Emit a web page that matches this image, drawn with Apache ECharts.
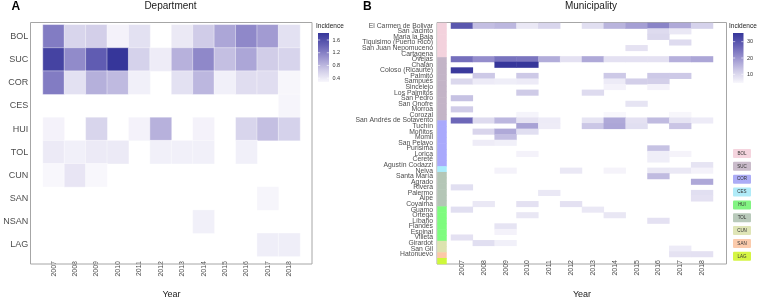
<!DOCTYPE html>
<html><head><meta charset="utf-8">
<script src="https://cdn.jsdelivr.net/npm/echarts@6/dist/echarts.min.js"></script>
<style>html,body{margin:0;padding:0;background:#fff}#c{width:757px;height:304px}</style>
</head><body><div id="c"></div>
<script>
const _ = null;
const years = ['2007','2008','2009','2010','2011','2012','2013','2014','2015','2016','2017','2018'];
const departments = ['BOL','SUC','COR','CES','HUI','TOL','CUN','SAN','NSAN','LAG'];
// Panel A: incidence by department (rows) and year (columns)
const deptIncidence = [
  [1.23,0.57,0.62,0.32,0.47,_,0.40,0.65,0.92,1.14,1.00,0.47],
  [1.70,1.12,1.48,1.82,0.60,0.37,0.84,1.14,0.74,0.92,0.64,0.58],
  [1.23,0.47,0.85,0.78,0.34,_,0.47,0.80,0.34,0.50,0.50,0.29],
  [_,_,_,_,_,_,_,_,_,_,_,0.30],
  [0.32,_,0.57,_,0.32,0.84,_,0.32,_,0.57,0.74,0.60],
  [0.39,0.34,0.39,0.39,_,0.34,0.34,0.34,_,0.34,_,_],
  [0.28,0.43,0.28,_,_,_,_,_,_,_,_,_],
  [_,_,_,_,_,_,_,_,_,_,0.30,_],
  [_,_,_,_,_,_,_,0.34,_,_,_,_],
  [_,_,_,_,_,_,_,_,_,_,0.36,0.36]
];
const municipalities = ['El Carmen de Bolivar','San Jacinto','Maria la Baja','Tiquisimo (Puerto Rico)','San Juan Nepomuceno','Cartagena',
  'Ovejas','Chalán','Coloso (Ricaurte)','Palmito','Sampués','Sincelejo','Los Palmitos','San Pedro','San Onofre','Morroa','Corozal',
  'San Andrés de Sotavento','Tuchín','Moñitos','Momil','San Pelayo','Purisima','Lorica','Cereté',
  'Agustín Codazzi',
  'Neiva','Santa María','Agrado','Rivera','Palermo','Aipe',
  'Coyaima','Guamo','Ortega','Líbano','Flandés','Espinal',
  'Villeta','Girardot','San Gil','Hatonuevo'];
const muniDept = ['BOL','BOL','BOL','BOL','BOL','BOL',
  'SUC','SUC','SUC','SUC','SUC','SUC','SUC','SUC','SUC','SUC','SUC',
  'COR','COR','COR','COR','COR','COR','COR','COR',
  'CES',
  'HUI','HUI','HUI','HUI','HUI','HUI',
  'TOL','TOL','TOL','TOL','TOL','TOL',
  'CUN','CUN','SAN','LAG'];
// Panel B: incidence by municipality (rows) and year (columns)
const muniIncidence = [
  [29.5,14,15,7.3,10.3,_,8.8,15.5,18.5,22.4,17,11],
  [_,_,_,_,_,_,_,_,_,9.5,7.3,_],
  [_,_,_,_,_,_,_,_,_,10,_,_],
  [_,_,_,_,_,_,_,_,_,_,9.5,_],
  [_,_,_,_,_,_,_,_,8.2,_,_,_],
  [_,_,_,_,_,_,_,_,_,_,_,_],
  [25.5,21,25,24.6,16.5,8.4,17,8.4,8.4,8.4,16,17.5],
  [_,_,35.3,35.3,_,_,_,_,_,_,_,_],
  [34.5,_,_,_,_,_,_,_,_,_,_,_],
  [_,12.5,_,12.5,_,_,_,12.5,_,12.5,12.5,_],
  [10,6.7,6.3,6.7,_,_,_,6.7,11.5,11.5,_,_],
  [_,_,_,_,_,_,_,5.5,_,5.5,_,_],
  [_,_,_,12.2,_,_,9.5,_,_,_,_,_],
  [13.5,_,_,_,_,_,_,_,_,_,_,_],
  [_,_,_,_,_,_,_,_,8,_,_,_],
  [12,_,_,_,_,_,_,_,_,_,_,_],
  [_,_,_,5.2,_,_,_,4.7,_,_,4.9,_],
  [26.7,9.5,15,8.2,6.7,_,8,17,8.4,14.5,8,6.7],
  [_,_,_,18,6.5,_,12.8,17.5,8.8,_,13,_],
  [_,10.4,17,8.8,_,_,_,_,_,_,_,_],
  [_,_,14,_,_,_,_,_,_,_,_,_],
  [_,6.5,5.9,_,_,_,_,_,_,_,_,_],
  [_,_,_,_,_,_,_,_,_,13.5,_,_],
  [_,_,_,5.5,_,_,_,_,_,6.3,5.3,_],
  [_,_,_,_,_,_,_,_,_,6.3,_,_],
  [_,_,_,_,_,_,_,_,_,_,_,8],
  [_,_,5.5,_,_,7.3,_,5.3,_,7.5,7.3,5.5],
  [_,_,_,_,_,_,_,_,_,14.5,_,_],
  [_,_,_,_,_,_,_,_,_,_,_,17.2],
  [8.8,_,_,_,_,_,_,_,_,_,_,_],
  [_,_,_,_,7.3,_,_,_,_,_,_,8.8],
  [_,_,_,_,_,_,_,_,_,_,_,8.4],
  [_,7.3,_,8.4,_,8.4,_,_,_,_,_,_],
  [8.8,_,_,_,_,_,7.3,_,_,_,_,_],
  [_,_,_,7.5,_,_,_,7.5,_,_,_,_],
  [_,_,_,_,_,_,_,_,_,8.4,_,_],
  [_,_,8,_,_,_,_,_,_,_,_,_],
  [_,_,5.5,_,_,_,_,_,_,_,_,_],
  [8.4,_,_,_,_,_,_,_,_,_,_,_],
  [_,8.8,5.9,_,_,_,_,_,_,_,_,_],
  [_,_,_,_,_,_,_,_,_,_,6.7,_],
  [_,_,_,_,_,_,_,_,_,_,8.2,8.4]
];
const groupLegend = ['BOL','SUC','COR','CES','HUI','TOL','CUN','SAN','LAG'];
const legendColors = {BOL:'#f5d4de',SUC:'#cabccb',COR:'#acacf6',CES:'#b0ebf8',HUI:'#82f482',TOL:'#b9cabb',CUN:'#dfe5b6',SAN:'#fbcbac',LAG:'#d5f544'};
const stripColors = {BOL:'#f3d2dd',SUC:'#c3b4c7',COR:'#a9a9fc',CES:'#a9ecfc',HUI:'#b4c6b6',TOL:'#7efc7e',CUN:'#dde3af',SAN:'#fdc8a7',LAG:'#cef83a'};
const legendTicksA = [0.4,0.8,1.2,1.6];
const legendTicksB = [10,20,30];

const ramp = ['#f8f7fc','#cecae7','#9b94cf','#6661b5','#36369a'];
const FONT = "'Liberation Sans', Arial, sans-serif";

function cells(rows){const o=[];rows.forEach((r,yi)=>r.forEach((v,xi)=>{if(v!=null)o.push([xi,yi,v]);}));return o;}
function range(rows){const v=rows.flat().filter(x=>x!=null);return [Math.min(...v),Math.max(...v)];}
const dataA = cells(deptIncidence), dataB = cells(muniIncidence);
const [minA,maxA] = range(deptIncidence), [minB,maxB] = range(muniIncidence);
const stripData = municipalities.map((m,i)=>({value:[0,i,1],itemStyle:{color:stripColors[muniDept[i]]}}));

const grad = () => new echarts.graphic.LinearGradient(0,0,0,1,
  ramp.slice().reverse().map((c,i)=>({offset:i/(ramp.length-1),color:c})));

function colorbar(x,y,w,h,min,max,ticks){
  const els=[{type:'rect',shape:{x:x,y:y,width:w,height:h},style:{fill:grad()}}];
  ticks.forEach(t=>{
    const ty=y+h-(t-min)/(max-min)*h;
    els.push({type:'line',shape:{x1:x,y1:ty,x2:x+2.2,y2:ty},style:{stroke:'#fff',lineWidth:0.6}});
    els.push({type:'line',shape:{x1:x+w-2.2,y1:ty,x2:x+w,y2:ty},style:{stroke:'#fff',lineWidth:0.6}});
    els.push({type:'text',x:x+w+3.5,y:ty,style:{text:String(t),fontSize:5.5,fontFamily:FONT,fill:'#333',verticalAlign:'middle'}});
  });
  return els;
}

const graphics = [
  {type:'rect',shape:{x:30.5,y:22.5,width:281.5,height:241.5},style:{fill:'none',stroke:'#a6a6a6',lineWidth:1},z:50,silent:true},
  {type:'rect',shape:{x:437,y:22.5,width:289.5,height:241.5},style:{fill:'none',stroke:'#a6a6a6',lineWidth:1},z:-1,silent:true},
  {type:'text',x:11.5,y:7,style:{text:'A',fontSize:12,fontWeight:'bold',fontFamily:FONT,fill:'#000',verticalAlign:'middle'}},
  {type:'text',x:363,y:7,style:{text:'B',fontSize:12,fontWeight:'bold',fontFamily:FONT,fill:'#000',verticalAlign:'middle'}},
  {type:'text',x:170.5,y:6.5,style:{text:'Department',fontSize:10,fontFamily:FONT,fill:'#1a1a1a',align:'center',verticalAlign:'middle'}},
  {type:'text',x:591,y:6.5,style:{text:'Municipality',fontSize:10,fontFamily:FONT,fill:'#1a1a1a',align:'center',verticalAlign:'middle'}},
  {type:'text',x:316,y:26,style:{text:'Incidence',fontSize:6.5,fontFamily:FONT,fill:'#1a1a1a',verticalAlign:'middle'}},
  {type:'text',x:729,y:26,style:{text:'Incidence',fontSize:6.5,fontFamily:FONT,fill:'#1a1a1a',verticalAlign:'middle'}},
  ...colorbar(318,33,11,49,minA,maxA,legendTicksA),
  ...colorbar(733,33,10.5,50,minB,maxB,legendTicksB)
];
groupLegend.forEach((g,i)=>{
  const cy = 153.5 + i*12.85;
  graphics.push({type:'rect',shape:{x:733,y:cy-4.5,width:18,height:9,r:1},style:{fill:legendColors[g]}});
  graphics.push({type:'text',x:742,y:cy,style:{text:g,fontSize:4.5,fontFamily:FONT,fill:'#333',align:'center',verticalAlign:'middle'}});
});

const axisLbl = {color:'#4d4d4d',fontFamily:FONT};
const chart = echarts.init(document.getElementById('c'),null,{renderer:'canvas'});
chart.setOption({
  animation:false,
  textStyle:{fontFamily:FONT},
  grid:[
    {left:43,top:24.8,width:257,height:237.6},
    {left:451,top:23,width:262,height:241},
    {left:437.5,top:23,width:9,height:241}
  ],
  xAxis:[
    {gridIndex:0,type:'category',data:years,offset:1.6,axisLine:{show:false},
     axisTick:{alignWithLabel:true,length:3,lineStyle:{color:'#333',width:0.8}},
     axisLabel:Object.assign({rotate:90,fontSize:7,margin:3,interval:0},axisLbl),
     name:'Year',nameLocation:'middle',nameGap:32,nameTextStyle:{fontSize:9,color:'#1a1a1a',fontFamily:FONT}},
    {gridIndex:1,type:'category',data:years,offset:0,axisLine:{show:false},
     axisTick:{alignWithLabel:true,length:3,lineStyle:{color:'#333',width:0.8}},
     axisLabel:Object.assign({rotate:90,fontSize:7,margin:3,interval:0},axisLbl),
     name:'Year',nameLocation:'middle',nameGap:33,nameTextStyle:{fontSize:9,color:'#1a1a1a',fontFamily:FONT}},
    {gridIndex:2,type:'category',data:['group'],show:false}
  ],
  yAxis:[
    {gridIndex:0,type:'category',data:departments,inverse:true,offset:12.3,axisLine:{show:false},
     axisTick:{alignWithLabel:true,length:3,lineStyle:{color:'#333',width:0.8}},
     axisLabel:Object.assign({fontSize:9,margin:2.5,interval:0},axisLbl)},
    {gridIndex:1,type:'category',data:municipalities,inverse:true,axisLine:{show:false},axisTick:{show:false},
     axisLabel:Object.assign({fontSize:6.8,margin:18,interval:0},axisLbl)},
    {gridIndex:2,type:'category',data:municipalities,inverse:true,show:false}
  ],
  visualMap:[
    {type:'continuous',seriesIndex:0,min:minA,max:maxA,show:false,inRange:{color:ramp}},
    {type:'continuous',seriesIndex:1,min:minB,max:maxB,show:false,inRange:{color:ramp}}
  ],
  series:[
    {type:'heatmap',xAxisIndex:0,yAxisIndex:0,data:dataA,itemStyle:{borderColor:'#fff',borderWidth:0.4}},
    {type:'heatmap',xAxisIndex:1,yAxisIndex:1,data:dataB},
    {type:'heatmap',xAxisIndex:2,yAxisIndex:2,data:stripData}
  ],
  graphic:graphics
});
</script></body></html>
